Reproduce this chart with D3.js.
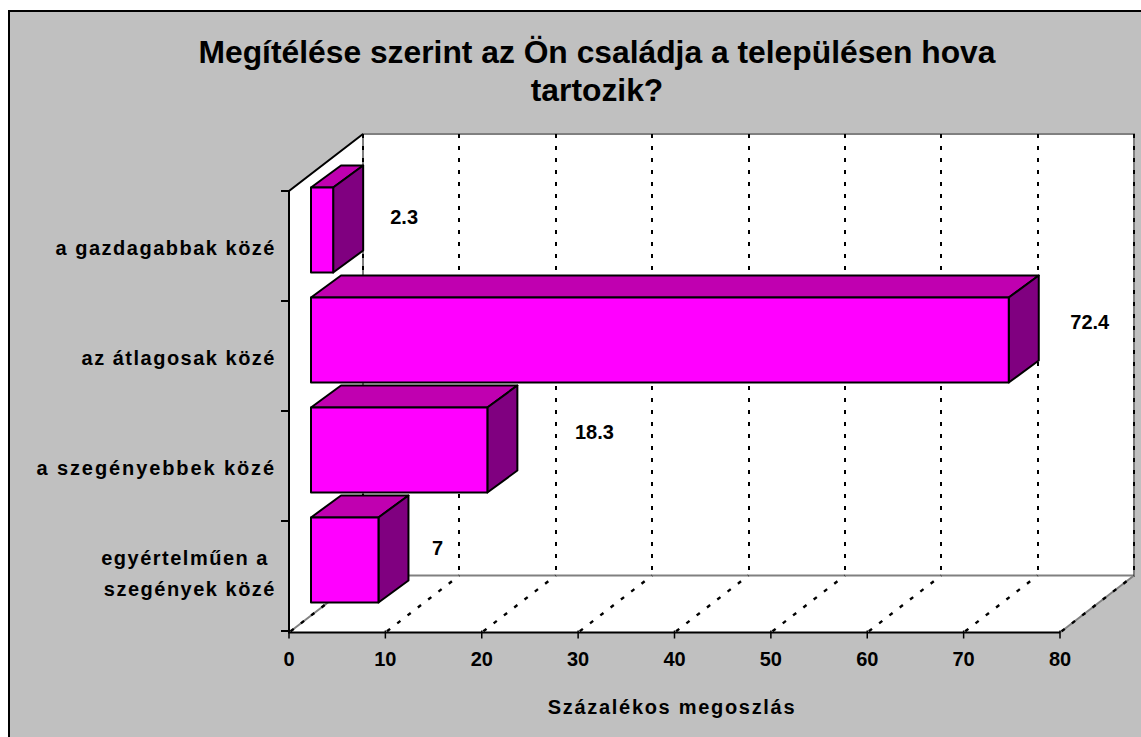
<!DOCTYPE html>
<html><head><meta charset="utf-8">
<script src="https://cdn.jsdelivr.net/npm/d3@7"></script>
<style>html,body{margin:0;padding:0;background:#fff}svg{display:block}text{font-family:"Liberation Sans",Arial,sans-serif;font-weight:bold;fill:#000}</style>
</head><body><svg id="c" width="1141" height="737"></svg>
<script>
const categories = [["a gazdagabbak közé"],["az átlagosak közé"],["a szegényebbek közé"],["egyértelműen a\u00a0","szegények közé"]];
const values = [2.3,72.4,18.3,7];
const labelText = ["2.3","72.4","18.3","7"];
const xTicks = [0,10,20,30,40,50,60,70,80];
const titleLines = ["Megítélése szerint az Ön családja a településen hova","tartozik?"];
const axisTitle = "Százalékos megoszlás";
const labelShiftX = [41,51,77,29];
const labelShiftY = [-6,-11.5,-11.5,-5];
const categorySpacing = [1.5,1.5,1.9,1.5];

const svg = d3.select("#c");
const depthX = 74, depthY = -57, barOff = 22, barOffY = -16, barDX = 30, barDY = -22;
const x = d3.scaleLinear().domain([0,80]).range([289,1060]);
const y = d3.scaleBand().domain(d3.range(categories.length)).range([191,631]).paddingInner(0.227).paddingOuter(0.1135);
const line = d3.line();

svg.append("rect").attr("x",9).attr("y",11).attr("width",1140).attr("height",740).attr("fill","#c0c0c0").attr("stroke","#000").attr("stroke-width",2);

const x0=x(0), x1=x(80), wallTop=191, bot=632.5;
// walls
svg.append("path").attr("d",line([[x0,bot],[x0,wallTop],[x0+depthX,wallTop+depthY],[x0+depthX,bot+depthY]])+"Z").attr("fill","#fff");
svg.append("path").attr("d",line([[x0,bot],[x1,bot],[x1+depthX,bot+depthY],[x0+depthX,bot+depthY]])+"Z").attr("fill","#fff");
svg.append("rect").attr("x",x0+depthX).attr("y",wallTop+depthY).attr("width",x1-x0).attr("height",bot-wallTop).attr("fill","#fff");
// gray edges
svg.append("path").attr("d",line([[x0,bot],[x0+depthX,bot+depthY],[x0+depthX,wallTop+depthY],[x1+depthX,wallTop+depthY],[x1+depthX,bot+depthY],[x0+depthX,bot+depthY]])).attr("fill","none").attr("stroke","#808080").attr("stroke-width",2);
svg.append("path").attr("d",line([[x1,bot],[x1+depthX,bot+depthY]])).attr("fill","none").attr("stroke","#808080").attr("stroke-width",2);
// gridlines
xTicks.forEach(t=>{
  const gx=x(t);
  svg.append("path").attr("d",line([[gx,bot],[gx+depthX,bot+depthY]])).attr("fill","none").attr("stroke","#000").attr("stroke-width",2.4).attr("stroke-dasharray","4 9").attr("stroke-dashoffset",-2);
  svg.append("path").attr("d",line([[gx+depthX,wallTop+depthY],[gx+depthX,bot+depthY]])).attr("fill","none").attr("stroke","#000").attr("stroke-width",2).attr("stroke-dasharray","4 8").attr("shape-rendering","crispEdges");
});
// left & bottom axis
svg.append("path").attr("d",line([[x0+depthX,wallTop+depthY],[x0,wallTop],[x0,bot],[x1,bot]])).attr("fill","none").attr("stroke","#000").attr("stroke-width",2);
// ticks
d3.range(categories.length+1).forEach(i=>{
  const ty=wallTop+i*y.step();
  svg.append("line").attr("x1",x0-8).attr("x2",x0).attr("y1",ty).attr("y2",ty).attr("stroke","#000").attr("stroke-width",2);
});
xTicks.forEach(t=>{
  svg.append("line").attr("x1",x(t)).attr("x2",x(t)).attr("y1",bot-2).attr("y2",bot+6).attr("stroke","#000").attr("stroke-width",1.5);
  svg.append("text").attr("x",x(t)).attr("y",bot+33.5).attr("text-anchor","middle").style("font-size","20px").text(t);
});
// bars
values.forEach((v,i)=>{
  const l=x(0)+barOff, r=x(v)+barOff, t=y(i)+barOffY, b=t+y.bandwidth();
  const g=svg.append("g").attr("stroke","#000").attr("stroke-width",2).attr("stroke-linejoin","round");
  g.append("path").attr("d",line([[l,t],[r,t],[r+barDX,t+barDY],[l+barDX,t+barDY]])+"Z").attr("fill","#c000b0");
  g.append("path").attr("d",line([[r,t],[r,b],[r+barDX,b+barDY],[r+barDX,t+barDY]])+"Z").attr("fill","#800080");
  g.append("rect").attr("x",l).attr("y",t).attr("width",r-l).attr("height",b-t).attr("fill","#ff00ff");
  svg.append("text").attr("x",r+barDX+labelShiftX[i]).attr("y",(t+b)/2+labelShiftY[i]).attr("text-anchor","middle").style("font-size","20px").text(labelText[i]);
});
// category labels
categories.forEach((lines,i)=>{
  const cy=y(i)+y.bandwidth()/2;
  lines.forEach((s,j)=>{
    svg.append("text").attr("x",276).attr("y",cy+(lines.length>1?4:9)+(j-(lines.length-1)/2)*31).attr("text-anchor","end").style("font-size","20px").style("letter-spacing",categorySpacing[i]+"px").text(s);
  });
});
// titles
titleLines.forEach((s,j)=>{
  svg.append("text").attr("x",597).attr("y",63+j*38).attr("text-anchor","middle").style("font-size","31.8px").text(s);
});
svg.append("text").attr("x",672).attr("y",714).attr("text-anchor","middle").style("font-size","20px").style("letter-spacing","1.7px").text(axisTitle);
</script></body></html>
